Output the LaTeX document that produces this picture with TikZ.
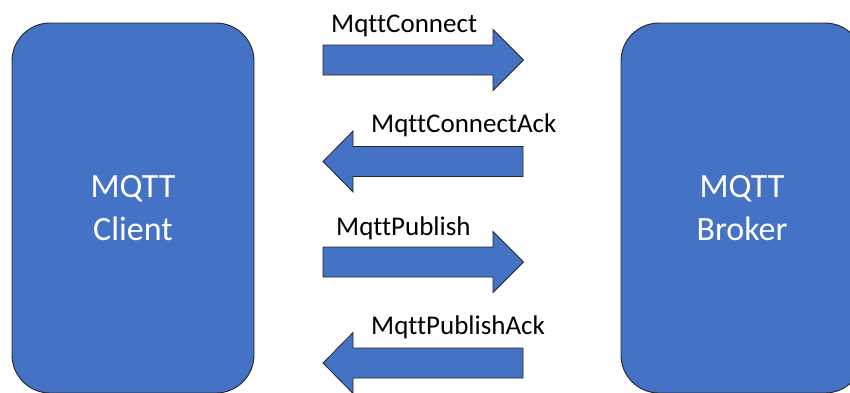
\documentclass[tikz,border=0pt]{standalone}
\usepackage{fontspec}
\setmainfont{Carlito}[Ligatures=NoCommon, RawFeature={-liga;-clig;-calt;-dlig}]
\definecolor{officeblue}{HTML}{4472C4}
\definecolor{edgedark}{HTML}{262626}
\begin{document}
\begin{tikzpicture}[x=1pt,y=-1pt,
  party/.style={draw=edgedark, line width=0.9pt, fill=officeblue, rounded corners=38pt,
    minimum width=242pt, minimum height=370pt, inner sep=0pt, align=center,
    text=white, font=\fontsize{34}{43}\selectfont},
  msgarrow/.style={draw=edgedark, line width=0.8pt, fill=officeblue, line join=miter},
  msglabel/.style={anchor=base west, inner sep=0pt, font=\fontsize{27}{32}\selectfont}]
  \useasboundingbox (0,0) rectangle (850,392);
  \clip (0,0) rectangle (850,392);

  % the two end points of the exchange
  \node[party] (client) at (133,208) {MQTT\\Client};
  \node[party] (broker) at (742,208) {MQTT\\Broker};

  % client -> broker messages (block arrows pointing right)
  \foreach \c in {60,262}{
    \path[msgarrow] (323,\c-15) -- (493,\c-15) -- (493,\c-30.5) -- (523.5,\c)
      -- (493,\c+30.5) -- (493,\c+15) -- (323,\c+15) -- cycle;
  }
  % broker -> client messages (block arrows pointing left)
  \foreach \c in {161.5,363}{
    \path[msgarrow] (523,\c-15) -- (353,\c-15) -- (353,\c-30.5) -- (323,\c)
      -- (353,\c+30.5) -- (353,\c+15) -- (523,\c+15) -- cycle;
  }

  % message names
  \node[msglabel] (connect)    at (331,32)  {MqttConnect};
  \node[msglabel] (connectack) at (371,132) {MqttConnectAck};
  \node[msglabel] (publish)    at (336,235) {MqttPublish};
  \node[msglabel] (publishack) at (371,334) {MqttPublishAck};
\end{tikzpicture}
\end{document}
